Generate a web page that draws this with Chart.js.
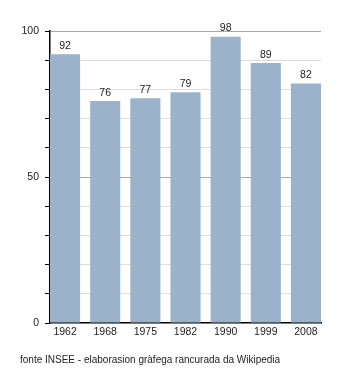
<!DOCTYPE html>
<html><head><meta charset="utf-8">
<script src="https://cdn.jsdelivr.net/npm/chart.js@4/dist/chart.umd.min.js"></script>
<style>
html,body{margin:0;padding:0;background:#fff;}
#wrap{position:relative;width:350px;height:373px;}
#src{position:absolute;left:20px;top:354px;font:10px "Liberation Sans",Arial,sans-serif;color:#222;white-space:nowrap;}
</style></head>
<body>
<div id="wrap">
<canvas id="c" width="350" height="373"></canvas>
<div id="src">fonte INSEE - elaborasion gràfega rancurada da Wikipedia</div>
</div>
<script>
const categories = ['1962','1968','1975','1982','1990','1999','2008'];
const values = [92,76,77,79,98,89,82];
const yLabels = [0,50,100];

const FONT = '"Liberation Sans", Arial, sans-serif';
const pts = values.map((v,i)=>({x:i+0.375,y:v}));

const labelPlugin = {
  id:'vals',
  afterDatasetsDraw(chart){
    const ctx = chart.ctx;
    const meta = chart.getDatasetMeta(0);
    ctx.save();
    ctx.font = '10.5px ' + FONT;
    ctx.fillStyle = '#222';
    ctx.textAlign = 'center';
    ctx.textBaseline = 'bottom';
    meta.data.forEach((el,i)=>{
      ctx.fillText(String(values[i]), el.x, el.y - 3);
    });
    ctx.restore();
  }
};

new Chart(document.getElementById('c'),{
  type:'bar',
  data:{datasets:[{data:pts,backgroundColor:'#9ab3cb',borderWidth:0,barPercentage:0.75,categoryPercentage:1}]},
  options:{
    responsive:false,animation:false,
    layout:{padding:{top:31,right:29,left:0,bottom:0}},
    plugins:{legend:{display:false},tooltip:{enabled:false}},
    scales:{
      x:{type:'linear',min:0,max:categories.length-0.25,offset:false,
        afterBuildTicks(s){s.ticks = categories.map((c,i)=>({value:i+0.375}));},
        afterFit(s){s.height = 50;},
        grid:{display:false,drawTicks:false,offset:false},
        border:{display:true,color:'#000',width:1.5},
        ticks:{autoSkip:false,maxRotation:0,padding:3,color:'#222',font:{family:FONT,size:10.5},
          callback:(v,i)=>categories[i]}
      },
      y:{min:0,max:100,
        afterFit(s){s.width = 50;},
        afterBuildTicks(s){const t=[];for(let v=0;v<=100;v+=10)t.push({value:v});s.ticks=t;},
        border:{display:true,color:'#000',width:1.5},
        grid:{drawTicks:true,tickLength:5,
          color:(c)=>{const v=c.tick?c.tick.value:0; if(v===0) return 'rgba(0,0,0,0)'; return (v===50||v===100)?'#aaaaaa':'#dddddd';},
          tickColor:'#000'},
        ticks:{padding:6,color:'#222',font:{family:FONT,size:10.5},
          callback:(v)=>yLabels.includes(v)?String(v):''}
      }
    }
  },
  plugins:[labelPlugin]
});
</script>
</body></html>
